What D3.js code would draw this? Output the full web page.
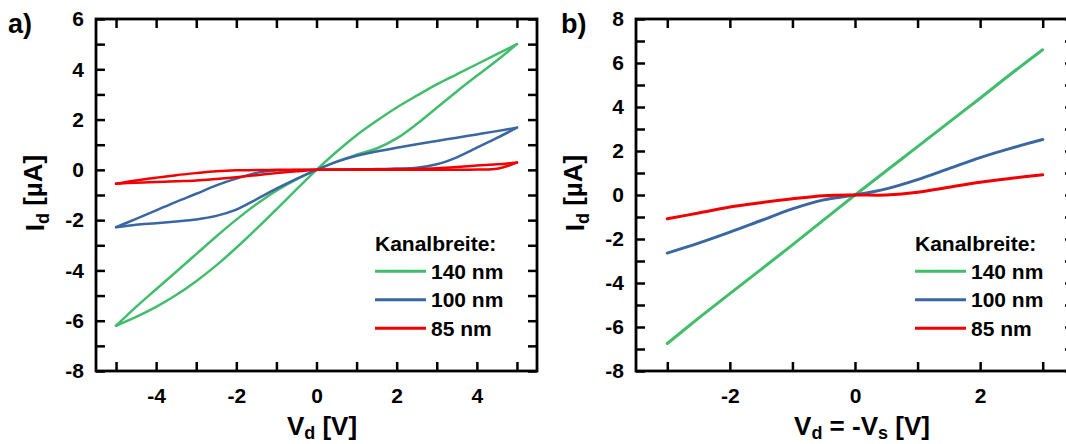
<!DOCTYPE html>
<html><head><meta charset="utf-8">
<script src="https://cdn.jsdelivr.net/npm/d3@7"></script>
<style>
body{margin:0;background:#fff}
svg{display:block}
text{font-family:"Liberation Sans",Arial,sans-serif;font-weight:bold;fill:#000}
</style>
</head><body>
<svg id="c" width="1066" height="444"></svg>
<script>
// ---------- data: panel a (hysteresis loops; two sweep branches crossing at 0) ----------
const aVd = [-5,-4.5,-4,-3.5,-3,-2.5,-2,-1.5,-1,-0.5,0,0.5,1,1.5,2,2.5,3,3.5,4,4.5,5];
// steep branch (lower on the left, upper on the right) and shallow branch
const a140Steep   = [-6.2,-5.85,-5.45,-4.98,-4.43,-3.8,-3.1,-2.35,-1.57,-0.78,0,0.72,1.38,1.95,2.48,2.95,3.4,3.8,4.2,4.6,5.0];
const a140Shallow = [-6.2,-5.45,-4.75,-4.05,-3.35,-2.65,-1.98,-1.37,-0.83,-0.38,0,0.33,0.6,0.85,1.25,1.82,2.47,3.12,3.74,4.35,5.0];
const a100Steep   = [-2.28,-2.18,-2.12,-2.05,-1.97,-1.83,-1.58,-1.17,-0.75,-0.36,0,0.32,0.56,0.73,0.88,1.02,1.15,1.28,1.41,1.54,1.68];
const a100Shallow = [-2.28,-1.95,-1.61,-1.27,-0.95,-0.62,-0.35,-0.12,-0.03,-0.01,0,0.01,0.02,0.03,0.05,0.08,0.22,0.5,0.88,1.27,1.68];
const a85Steep    = [-0.55,-0.51,-0.48,-0.45,-0.42,-0.36,-0.29,-0.21,-0.13,-0.06,0,0,0.01,0.01,0.02,0.03,0.06,0.11,0.17,0.22,0.29];
const a85Shallow  = [-0.55,-0.42,-0.31,-0.21,-0.13,-0.06,-0.02,-0.01,0,0,0,0,0,0,0,0,0,0,0.01,0.04,0.29];

// ---------- data: panel b ----------
const bVd = [-3,-2.5,-2,-1.5,-1,-0.5,0,0.5,1,1.5,2,2.5,3];
const b140 = [-6.75,-5.6,-4.48,-3.38,-2.27,-1.13,0,1.1,2.2,3.3,4.4,5.52,6.6];
const b100 = [-2.64,-2.19,-1.69,-1.16,-0.63,-0.22,0,0.28,0.7,1.2,1.7,2.13,2.52];
const b85  = [-1.08,-0.82,-0.55,-0.35,-0.17,-0.03,0,0,0.12,0.35,0.58,0.76,0.92];

// ---------- ticks / labels ----------
const aXTicks = [-5,-4,-3,-2,-1,0,1,2,3,4,5];
const aXLabels = [-4,-2,0,2,4];
const aYTicks = [-8,-7,-6,-5,-4,-3,-2,-1,0,1,2,3,4,5,6];
const aYLabels = [-8,-6,-4,-2,0,2,4,6];
const bXTicks = [-3,-2,-1,0,1,2,3];
const bXLabels = [-2,0,2];
const bYTicks = [-8,-7,-6,-5,-4,-3,-2,-1,0,1,2,3,4,5,6,7,8];
const bYLabels = [-8,-6,-4,-2,0,2,4,6,8];

const seriesNames = ["140 nm","100 nm","85 nm"];
const seriesColors = ["#41bd6b","#3a67a2","#f00000"];
const legendTitle = "Kanalbreite:";

const svg = d3.select("#c");

function panel(opt){
  const x = d3.scaleLinear().domain(opt.xDomain).range([opt.left, opt.right]);
  const y = d3.scaleLinear().domain(opt.yDomain).range([opt.bottom, opt.top]);
  const g = svg.append("g");
  const fmt = labels => d => labels.includes(d) ? String(d).replace("−","-") : "";
  const TS = 9;
  const styleAxis = sel => {
    sel.select(".domain").remove();
    sel.selectAll(".tick line").attr("stroke","#000").attr("stroke-width",2.5);
    sel.selectAll(".tick text").style("font-size","21px").style("font-family","'Liberation Sans',Arial,sans-serif").style("font-weight","bold");
  };
  g.append("g").attr("transform",`translate(0,${opt.bottom})`)
    .call(d3.axisBottom(x).tickValues(opt.xTicks).tickSize(-TS).tickPadding(17).tickFormat(fmt(opt.xLabels)))
    .call(styleAxis);
  g.append("g").attr("transform",`translate(0,${opt.top})`)
    .call(d3.axisTop(x).tickValues(opt.xTicks).tickSize(-TS).tickFormat(""))
    .call(styleAxis);
  g.append("g").attr("transform",`translate(${opt.left},0)`)
    .call(d3.axisLeft(y).tickValues(opt.yTicks).tickSize(-TS).tickPadding(12).tickFormat(fmt(opt.yLabels)))
    .call(styleAxis);
  g.append("g").attr("transform",`translate(${opt.right},0)`)
    .call(d3.axisRight(y).tickValues(opt.yTicks).tickSize(-TS).tickFormat(""))
    .call(styleAxis);
  g.append("rect").attr("x",opt.left).attr("y",opt.top)
    .attr("width",opt.right-opt.left).attr("height",opt.bottom-opt.top)
    .attr("fill","none").attr("stroke","#000").attr("stroke-width",2.8);

  const line = d3.line().x(d=>x(d[0])).y(d=>y(d[1])).curve(d3.curveCatmullRom.alpha(0.5));
  opt.series.forEach((s,i)=>{
    s.branches.forEach(br=>{
      g.append("path").datum(opt.xs.map((v,k)=>[v,br[k]]))
        .attr("d",line).attr("fill","none").attr("stroke",seriesColors[i])
        .attr("stroke-width",opt.lw).attr("stroke-linejoin","round").attr("stroke-linecap","round");
    });
  });

  // panel letter
  g.append("text").attr("x",opt.letterX).attr("y",33).style("font-size","27px").text(opt.letter);

  // y title
  const yt = g.append("text").attr("transform",`translate(${opt.yTitleX},${(opt.top+opt.bottom)/2-2}) rotate(-90)`)
    .attr("text-anchor","middle").style("font-size","26px");
  yt.append("tspan").text("I");
  yt.append("tspan").attr("dy","0.3em").style("font-size","18px").text("d");
  yt.append("tspan").attr("dy","-0.3em").text(" [µA]");

  // x title
  const xt = g.append("text").attr("x",opt.xTitleX).attr("y",435).attr("text-anchor","middle").style("font-size","26px");
  opt.xTitle.forEach(p=>{
    const t = xt.append("tspan").text(p.t);
    if(p.sub){ t.attr("dy","4").style("font-size","18px"); }
    if(p.back){ t.attr("dy","-4"); }
  });

  // legend
  const lg = g.append("g");
  lg.append("text").attr("x",opt.legX).attr("y",251).style("font-size","21px").text(legendTitle);
  const rows = [271.3,299.7,328.2];
  seriesNames.forEach((n,i)=>{
    lg.append("line").attr("x1",opt.legX).attr("x2",opt.legX+51).attr("y1",rows[i]).attr("y2",rows[i])
      .attr("stroke",seriesColors[i]).attr("stroke-width",3);
    lg.append("text").attr("x",opt.legX+56).attr("y",rows[i]+7.5).style("font-size","21px").text(n);
  });
}

panel({
  left:96, right:537, top:19, bottom:371,
  xDomain:[-5.5,5.5], yDomain:[-8,6],
  xTicks:aXTicks, xLabels:aXLabels, yTicks:aYTicks, yLabels:aYLabels,
  xs:aVd, lw:2.5,
  series:[{branches:[a140Steep,a140Shallow]},{branches:[a100Steep,a100Shallow]},{branches:[a85Steep,a85Shallow]}],
  letter:"a)", letterX:8, yTitleX:44, xTitleX:322,
  xTitle:[{t:"V"},{t:"d",sub:true},{t:" [V]",back:true}],
  legX:375
});

panel({
  left:636, right:1074, top:19, bottom:371,
  xDomain:[-3.5,3.5], yDomain:[-8,8],
  xTicks:bXTicks, xLabels:bXLabels, yTicks:bYTicks, yLabels:bYLabels,
  xs:bVd, lw:3,
  series:[{branches:[b140]},{branches:[b100]},{branches:[b85]}],
  letter:"b)", letterX:561, yTitleX:584, xTitleX:862,
  xTitle:[{t:"V"},{t:"d",sub:true},{t:" = -V",back:true},{t:"s",sub:true},{t:" [V]",back:true}],
  legX:915
});
</script>
</body></html>
